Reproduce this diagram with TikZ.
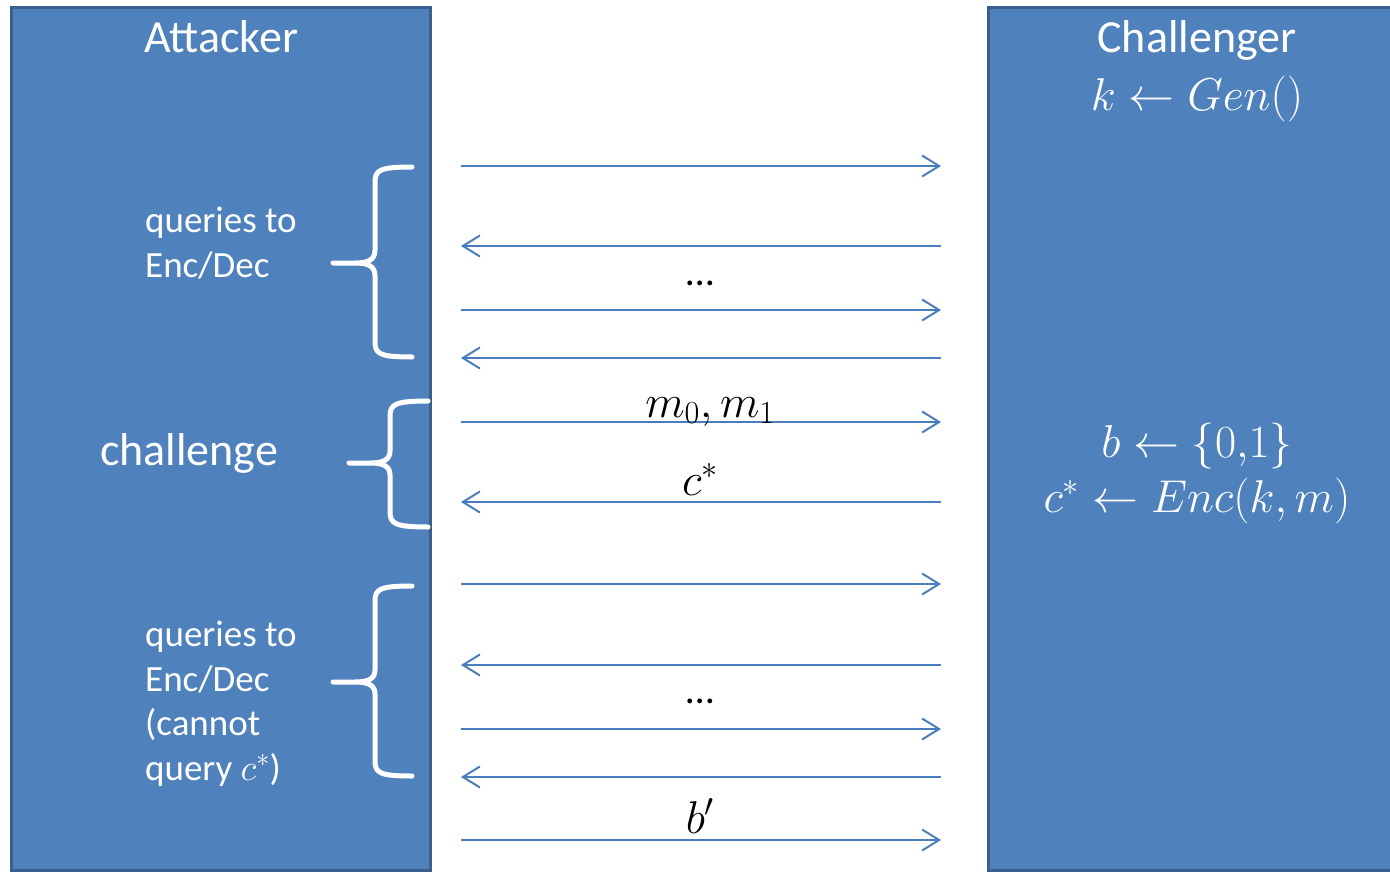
\RequirePackage{fix-cm}
\documentclass[tikz,border=0pt]{standalone}
\usepackage[no-math]{fontspec}
\setmainfont{Carlito}
\usetikzlibrary{arrows.meta}
\definecolor{boxfill}{HTML}{4F81BD}
\definecolor{boxline}{HTML}{3A5F8C}
\definecolor{arrowcol}{HTML}{4A7EBB}
\tikzset{
  party/.style={fill=boxfill,draw=boxline,line width=3pt},
  msg/.style={draw=arrowcol,line width=2.2pt,-{Straight Barb[length=17pt,width=21pt,line width=2pt]}},
  brace/.style={draw=white,line width=5pt,line cap=round,line join=round},
  title/.style={text=white,font=\fontsize{46}{55}\selectfont,inner sep=0pt},
  side/.style={text=white,font=\fontsize{37}{45}\selectfont,inner sep=0pt,anchor=base west},
  mathw/.style={text=white,font=\fontsize{46}{55}\selectfont,inner sep=0pt,anchor=base},
  mathb/.style={text=black,font=\fontsize{46}{55}\selectfont,inner sep=0pt,anchor=base},
}
\begin{document}
\begin{tikzpicture}[x=1pt,y=-1pt]
\useasboundingbox (0,0) rectangle (1390,872);
\clip (0,0) rectangle (1390,872);
% parties
\path[party] (11,8) rectangle (430,870);
\path[party] (988,8) rectangle (1420,870);
\node[title,anchor=base] (att) at (221,53) {Attacker};
\node[title,anchor=base] (chal) at (1197,53) {Challenger};
\node[mathw] (gen) at (1197,111) {$k \leftarrow \mathnormal{Gen}()$};
\node[mathw] (bsel) at (1197,457) {$b \leftarrow \{0{,}1\}$};
\node[mathw] (enc) at (1197,512) {$c^{*} \leftarrow \mathnormal{Enc}(k,m)$};
% attacker side text
\node[side] (q1a) at (145,232) {queries to};
\node[side] (q1b) at (145,277) {Enc/Dec};
\node[title,anchor=base] (chl) at (189,465) {challenge};
\node[side] (q2a) at (145,646) {queries to};
\node[side] (q2b) at (145,691) {Enc/Dec};
\node[side] (q2c) at (145,735) {(cannot};
\node[side] (q2d) at (145,780) {query $c^{*}$)};
% braces
\path[brace] (412,167) .. controls (380,167) and (375,170) .. (375,182)
  -- (375,250) .. controls (375,260) and (368,263) .. (355,263) -- (333,263)
  (355,263) .. controls (368,263) and (375,266) .. (375,276)
  -- (375,342) .. controls (375,354) and (380,357) .. (412,357);
\path[brace] (428,401) .. controls (396,401) and (390,404) .. (390,416)
  -- (390,451) .. controls (390,460) and (383,463) .. (370,463) -- (349,463)
  (370,463) .. controls (383,463) and (390,466) .. (390,475)
  -- (390,512) .. controls (390,524) and (396,527) .. (428,527);
\path[brace] (412,586) .. controls (380,586) and (375,589) .. (375,601)
  -- (375,670) .. controls (375,679) and (368,682) .. (355,682) -- (333,682)
  (355,682) .. controls (368,682) and (375,685) .. (375,694)
  -- (375,761) .. controls (375,773) and (380,776) .. (412,776);
% message endpoints
\foreach \i/\y in {1/166,2/246,3/310,4/358,5/422,6/502,7/584,8/665,9/729,10/777,11/840}{
  \coordinate (A\i) at (461,\y);
  \coordinate (C\i) at (941,\y);
}
\draw[msg] (A1) -- (C1);
\draw[msg] (C2) -- (A2);
\draw[msg] (A3) -- (C3);
\draw[msg] (C4) -- (A4);
\draw[msg] (A5) -- (C5);
\draw[msg] (C6) -- (A6);
\draw[msg] (A7) -- (C7);
\draw[msg] (C8) -- (A8);
\draw[msg] (A9) -- (C9);
\draw[msg] (C10) -- (A10);
\draw[msg] (A11) -- (C11);
% message labels
\node[mathb] (dots1) at (700,285) {\fontsize{40}{45}\selectfont\ldots};
\node[mathb] (mm) at (710,417) {$m_0,m_1$};
\node[mathb] (cs) at (700,495) {$c^{*}$};
\node[mathb] (dots2) at (700,703) {\fontsize{40}{45}\selectfont\ldots};
\node[mathb] (bp) at (700,833) {$b'$};
\end{tikzpicture}
\end{document}
